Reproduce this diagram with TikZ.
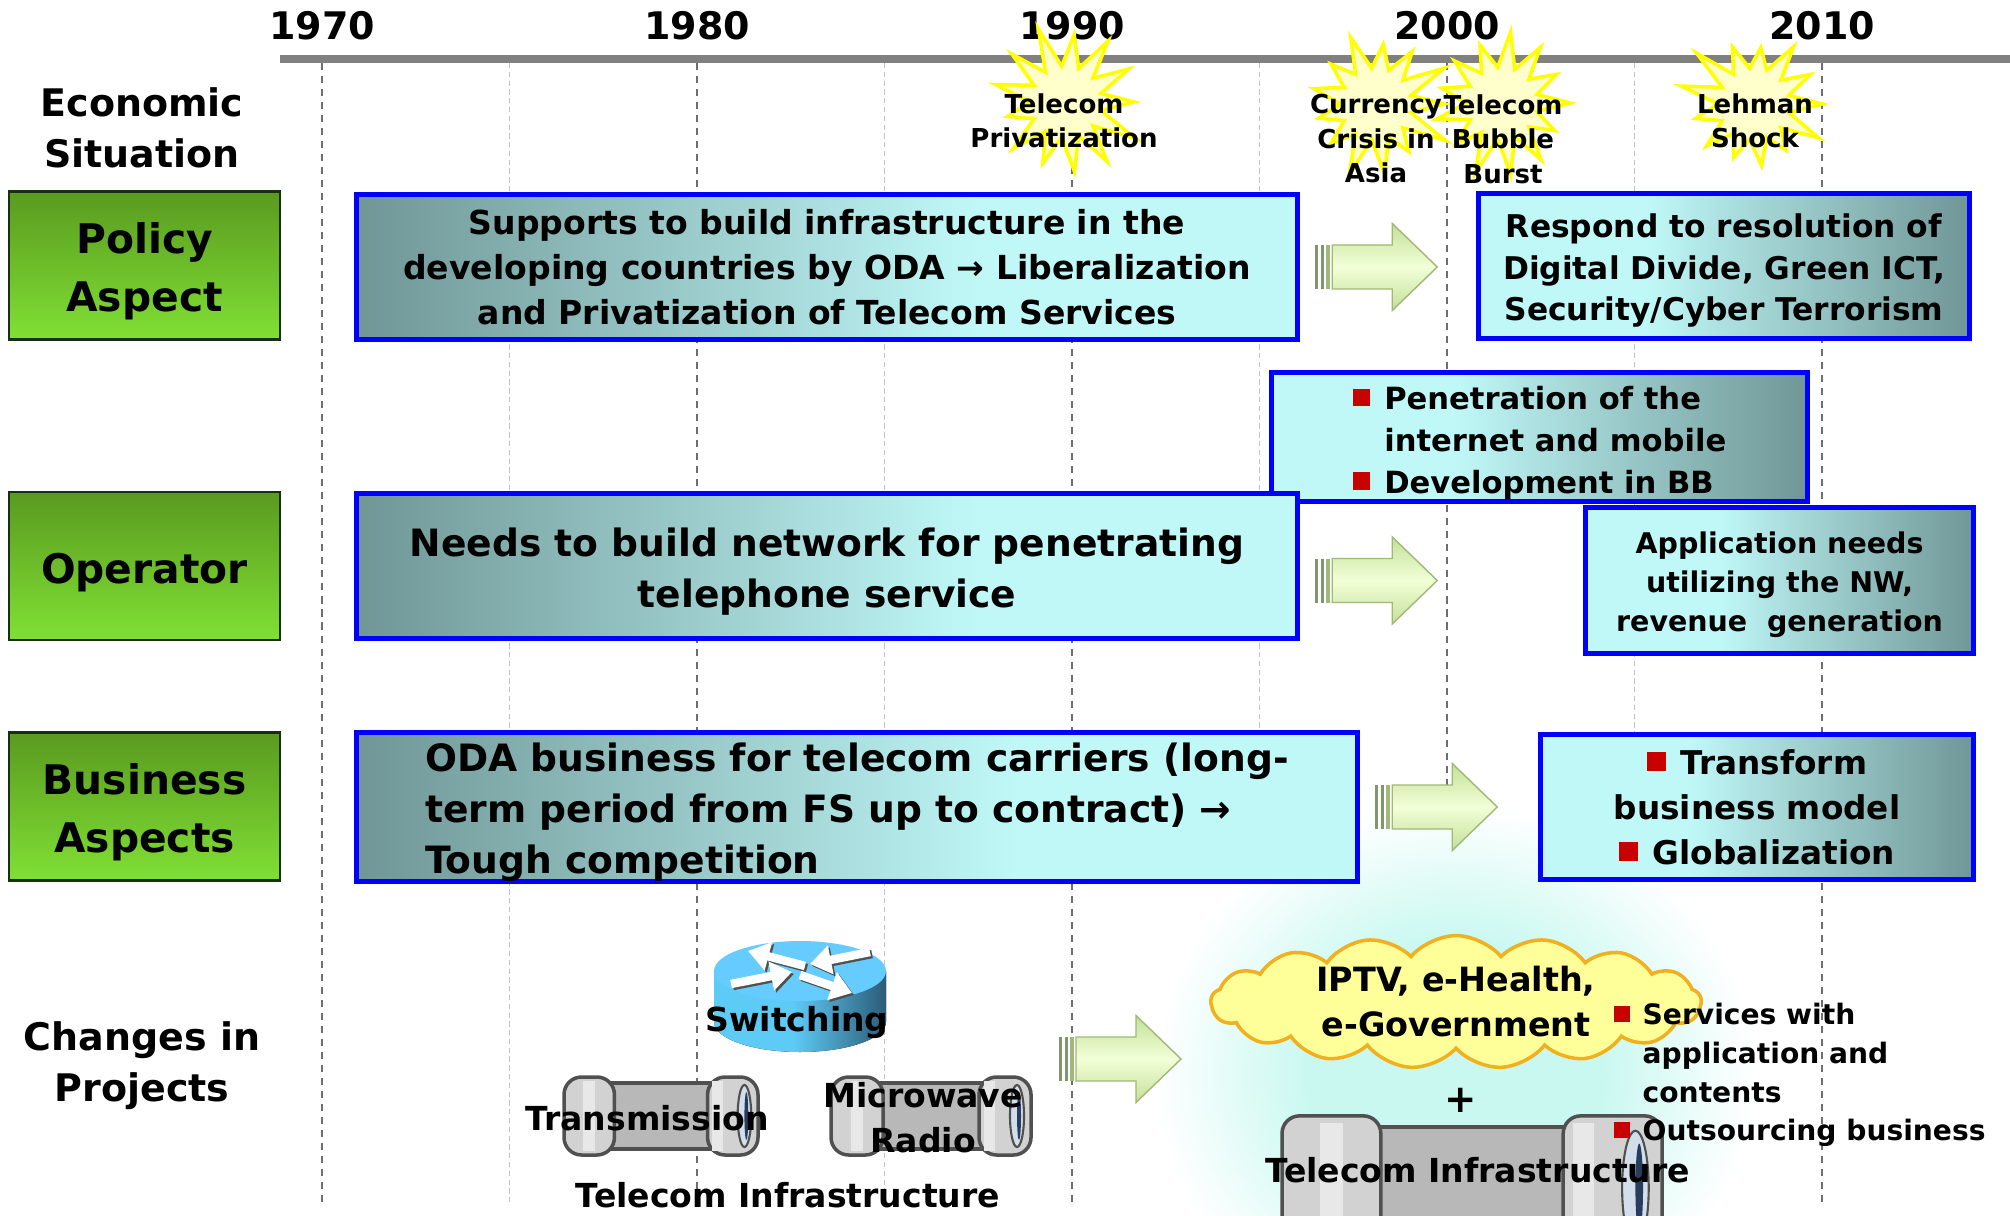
\documentclass[tikz,border=0pt]{standalone}
\usepackage{fontspec}
\setmainfont{DejaVu Sans}
\usetikzlibrary{calc,backgrounds,arrows.meta,shapes.symbols}

\definecolor{bleuBord}{RGB}{0,0,255}
\definecolor{grisBleu}{RGB}{112,150,150}
\definecolor{cyanClair}{RGB}{192,248,248}
\definecolor{vertHaut}{RGB}{90,154,32}
\definecolor{vertBas}{RGB}{128,224,52}
\definecolor{vertBord}{RGB}{24,48,16}
\definecolor{jauneEclat}{RGB}{255,255,204}
\definecolor{jauneBord}{RGB}{255,255,0}
\definecolor{rouge}{RGB}{200,0,0}
\definecolor{grisAxe}{RGB}{128,128,128}
\definecolor{grisGrille}{RGB}{110,110,110}
\definecolor{grisPale}{RGB}{195,195,195}
\definecolor{bleuA}{RGB}{94,203,246}
\definecolor{bleuB}{RGB}{44,92,120}
\definecolor{bleuDessus}{RGB}{102,204,255}
\definecolor{nuageFond}{RGB}{255,255,153}
\definecolor{nuageBord}{RGB}{240,176,32}
\definecolor{lueur}{RGB}{200,248,240}
\definecolor{vertB}{RGB}{196,224,152}
\definecolor{vertC}{RGB}{242,255,216}
\definecolor{vertD}{RGB}{160,184,120}
\definecolor{vertF}{RGB}{130,150,110}
\definecolor{grisM}{RGB}{184,184,184}
\definecolor{grisC}{RGB}{210,210,210}
\definecolor{grisL}{RGB}{232,232,232}
\definecolor{grisF}{RGB}{80,80,80}
\definecolor{ouverture}{RGB}{210,222,234}
\definecolor{bleuNuit}{RGB}{40,60,96}

\pgfdeclarehorizontalshading{degrade}{100bp}{color(0bp)=(grisBleu); color(25bp)=(grisBleu); color(58bp)=(cyanClair); color(100bp)=(cyanClair)}
\pgfdeclarehorizontalshading{cylindre}{100bp}{color(0bp)=(bleuA); color(25bp)=(bleuA); color(48bp)=(bleuA); color(75bp)=(bleuB); color(100bp)=(bleuB)}
\pgfdeclareradialshading{halo}{\pgfpoint{0bp}{0bp}}{color(0bp)=(lueur); color(12bp)=(lueur); color(25bp)=(white); color(50bp)=(white)}
\newcommand{\puce}{\textcolor{rouge}{\raisebox{0.1em}{\rule{0.58em}{0.58em}}}\hspace{0.45em}}
\newcommand{\haut}{\rule{0pt}{1.05em}}

\begin{document}
\begin{tikzpicture}[%
        x=0.01cm, y=-0.01cm,%
        show background rectangle,%
        tight background,%
        background rectangle/.style={fill=white}%
    ]
%
% Styles
%
\tikzset{every node/.style={font=\bfseries}};%
\tikzset{decennie/.style={grisGrille, line width=0.5pt, dash pattern=on 2pt off 1.7pt}};%
\tikzset{demi/.style={grisPale, line width=0.3pt, dash pattern=on 1.5pt off 1pt}};%
\tikzset{annee/.style={font=\fontsize{10.8}{13}\selectfont\bfseries}};%
\tikzset{titre/.style={align=center, font=\fontsize{10.8}{14.5}\selectfont\bfseries}};%
\tikzset{etiquette/.style={draw=vertBord, line width=0.6pt, top color=vertHaut, bottom color=vertBas, minimum width=2.7cm, minimum height=1.48cm, align=center, font=\fontsize{11.6}{16.5}\selectfont\bfseries}};%
\tikzset{boite/.style={draw=bleuBord, line width=1.4pt, shading=degrade, inner sep=0pt, align=center}};%
\tikzset{boite inverse/.style={boite, shading angle=180}};%
\tikzset{evenement/.style={align=center, inner sep=0pt, font=\fontsize{7.4}{9.8}\selectfont\bfseries}};%
\tikzset{icone/.style={align=center, inner sep=0pt, font=\fontsize{9.4}{12.8}\selectfont\bfseries}};%
\tikzset{eclat/.pic={\filldraw[fill=jauneEclat, draw=jauneBord, line width=1pt] (0:68) \foreach \k [evaluate=\k as \r using {36+(1-mod(\k,2))*(20+24*rnd)}] in {1,...,25} { -- ({\k*360/26}:\r) } -- cycle;}};%
\tikzset{fleche verte/.pic={%
    \fill[vertF] (0,-22) rectangle (3,22);%
    \fill[vertF] (6,-22) rectangle (9,22);%
    \fill[vertD] (11,-22) rectangle (15,22);%
    \shadedraw[top color=vertB, bottom color=vertB, middle color=vertC, draw=vertD, line width=0.4pt] (17,-22) -- (77,-22) -- (77,-43.5) -- (122,0) -- (77,43.5) -- (77,22) -- (17,22) -- cycle;}};%
\tikzset{tuyau/.pic={%
    \filldraw[fill=grisM, draw=grisF, line width=1pt] (-62,-33) rectangle (62,33);%
    \filldraw[fill=grisC, draw=grisF, line width=1pt, rounded corners=5pt] (-100,-39) rectangle (-48,39);%
    \fill[grisL] (-80,-35) rectangle (-68,35);%
    \filldraw[fill=grisC, draw=grisF, line width=1pt, rounded corners=5pt] (48,-39) rectangle (100,39);%
    \fill[grisL] (53,-35) rectangle (64,35);%
    \filldraw[fill=ouverture, draw=grisF, line width=0.6pt] (86,0) ellipse[x radius=7, y radius=31];%
    \fill[bleuNuit] (88,0) ellipse[x radius=2, y radius=24];}};%
\tikzset{fleche blanche/.style={white, line width=2.4pt, -{Triangle[length=6pt, width=8pt]}}};%
\tikzset{ombre/.style={grisF, line width=2.4pt, -{Triangle[length=6pt, width=8pt]}}};%

%
% Macros
%
\pgfmathsetmacro{\xa}{322}% x of 1970
\pgfmathsetmacro{\pas}{375}% one decade
\pgfmathsetmacro{\ybas}{1205}%
\pgfmathsetseed{11}%

\useasboundingbox (0,0) rectangle (2010,1216);%

%
% Time axis and grid
%
\foreach \i in {0,...,3} {\draw[demi] ({\xa+(\i+0.5)*\pas},63) -- ({\xa+(\i+0.5)*\pas},\ybas);}%
\foreach \an [count=\i from 0] in {1970,1980,1990,2000,2010} {%
    \draw[decennie] ({\xa+\i*\pas},63) -- ({\xa+\i*\pas},\ybas);%
}%
\shade[shading=halo] (1455,1075) ellipse[x radius=300, y radius=270];%
\draw[grisAxe, line width=2.3pt] (280,59) -- (2010,59);%
\foreach \an [count=\i from 0] in {1970,1980,1990,2000,2010} {%
    \node[annee] (an\an) at ({\xa+\i*\pas},26) {\an};%
}%

%
% Economic situation
%
\pic at (1066,102) {eclat};%
\pic at (1376,104) {eclat};%
\pic at (1502,103) {eclat};%
\pic at (1754,104) {eclat};%
\node[evenement] (privatisation) at (1064,121) {Telecom\\Privatization};%
\node[evenement] (crise) at (1376,139) {Currency\\Crisis in\\Asia};%
\node[evenement] (bulle) at (1503,139) {Telecom\\Bubble\\Burst};%
\node[evenement] (lehman) at (1755,121) {Lehman\\Shock};%

%
% Row labels
%
\node[titre] (economie) at (142,128) {Economic\\Situation};%
\node[etiquette] (politique) at (144.5,265.5) {\haut Policy\\Aspect};%
\node[etiquette] (operateur) at (144.5,566) {\haut Operator};%
\node[etiquette] (affaires) at (144.5,806.5) {\haut Business\\Aspects};%
\node[titre] (projets) at (142,1066) {Changes in\\Projects};%

%
% Policy aspect
%
\node[boite, minimum width=9.41cm, minimum height=1.45cm, font=\fontsize{9.4}{12.8}\selectfont\bfseries] (polgauche) at (827,267) {Supports to build infrastructure in the\\developing countries by ODA → Liberalization\\and Privatization of Telecom Services};%
\node[boite inverse, minimum width=4.91cm, minimum height=1.45cm, font=\fontsize{8.9}{11.9}\selectfont\bfseries] (poldroite) at (1724,266) {\haut Respond to resolution of\\Digital Divide, Green ICT,\\Security/Cyber Terrorism};%
\pic at ($(polgauche.east)+(15,0)$) {fleche verte};%

%
% Operator
%
\node[boite inverse, minimum width=5.36cm, minimum height=1.29cm, align=left, font=\fontsize{8.7}{11.9}\selectfont\bfseries] (penetration) at (1539.5,437) {\rule{0pt}{10pt}\puce Penetration of the\\\hphantom{\puce}internet and mobile\\\puce Development in BB};%
\node[boite, minimum width=9.41cm, minimum height=1.45cm, font=\fontsize{10.7}{14.5}\selectfont\bfseries] (opgauche) at (827,566) {\haut Needs to build network for penetrating\\telephone service};%
\node[boite inverse, minimum width=3.88cm, minimum height=1.46cm, font=\fontsize{8.1}{11.1}\selectfont\bfseries] (application) at (1779.5,580.5) {\haut Application needs\\utilizing the NW,\\revenue\ \ generation};%
\pic at ($(opgauche.east |- application.west)+(15,0)$) {fleche verte};%

%
% Business aspects
%
\node[boite, minimum width=10.01cm, minimum height=1.45cm, align=left, font=\fontsize{10.7}{14.5}\selectfont\bfseries] (busgauche) at (857,807) {\haut ODA business for telecom carriers (long-\\term period from FS up to contract) →\\Tough competition};%
\node[boite inverse, minimum width=4.33cm, minimum height=1.45cm, font=\fontsize{9.3}{12.8}\selectfont\bfseries] (busdroite) at (1757,807) {\puce Transform\\business model\\\puce Globalization};%
\pic at ($(busgauche.east)+(15,0)$) {fleche verte};%

%
% Changes in projects
%
\fill[shading=cylindre] (714,971) -- (714,1022) arc[start angle=180, end angle=0, x radius=86, y radius=30] -- (886,971) -- cycle;%
\fill[bleuDessus] (800,971) ellipse[x radius=86, y radius=30];%
\draw[ombre] (807,968) -- (750,953);%
\draw[fleche blanche] (805,966) -- (748,951);%
\draw[ombre] (872,954) -- (812,966);%
\draw[fleche blanche] (870,952) -- (810,964);%
\draw[ombre] (733,986) -- (794,974);%
\draw[fleche blanche] (731,984) -- (792,972);%
\draw[ombre] (802,977) -- (854,995);%
\draw[fleche blanche] (800,975) -- (852,993);%
\node[icone] (commutation) at (797,1022) {Switching};%
\pic[xscale=0.97] at (661,1116) {tuyau};%
\pic at (931,1116) {tuyau};%
\node[icone] (transmission) at (647,1118) {Transmission};%
\node[icone] (hertzien) at (923,1118) {Microwave\\Radio};%
\node[icone] (infragauche) at (788,1195) {Telecom Infrastructure};%
\pic at (1059,1059) {fleche verte};%

\node[cloud, cloud puffs=17, cloud puff arc=100, aspect=4, fill=nuageFond, draw=nuageBord, line width=1pt, minimum width=4.9cm, minimum height=1.2cm, align=center, inner sep=0pt, font=\fontsize{9.5}{12.8}\selectfont\bfseries] (services) at (1456,1002) {IPTV, e-Health,\\e-Government};%
\node[font=\fontsize{11}{13}\selectfont\bfseries] (plus) at (1461,1100) {+};%
\pic[xscale=1.9, yscale=1.85] at (1472,1188) {tuyau};%
\node[icone] (infradroite) at (1478,1170) {Telecom Infrastructure};%
\node[anchor=west, align=left, inner sep=0pt, font=\fontsize{8.0}{11}\selectfont\bfseries] (offres) at (1613,1075) {\puce Services with\\\hphantom{\puce}application and\\\hphantom{\puce}contents\\\puce Outsourcing business};%
\end{tikzpicture}
\end{document}
